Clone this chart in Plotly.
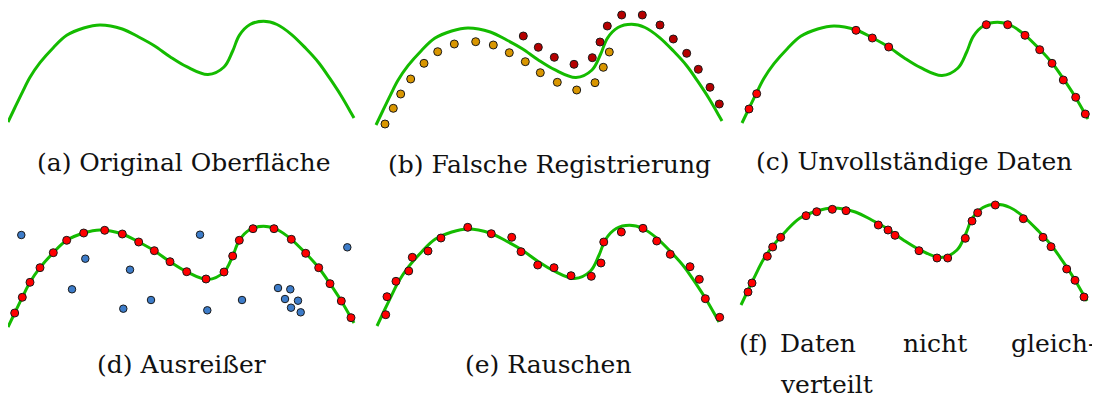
import plotly.graph_objects as go

# ---------------- data (surface template coordinates, y grows downward) -------------
CURVE_X = [8, 14.7, 22.3, 30, 40, 53.3, 66.7, 83.7, 100, 122.3, 138.7, 154.3, 170, 186.7,
           208, 224, 232.7, 239.3, 250, 263.5, 277, 291.3, 305.7, 318.7, 330, 341.3, 351, 354]
CURVE_Y = [122, 108, 92.3, 77.3, 62.7, 47.7, 35.3, 28, 25, 29, 37, 45.7, 56.7, 66.7,
           74.5, 67, 51, 35.3, 24.5, 21.3, 24.5, 34.3, 48.3, 62.7, 78.7, 96, 112.7, 118]

# (b) wrong registration: two shifted scans
B_ORANGE_X = [17, 25.3, 32.7, 42.7, 56, 69.7, 86.3, 107.7, 125.3, 141.3, 157.3, 172.3,
              189.3, 208.7, 227, 235.3, 241.3]
B_ORANGE_Y = [121, 105.3, 91, 76, 60.3, 48.7, 41, 38.7, 42, 49.7, 58.7, 69.7,
              79.3, 87, 79.7, 64.3, 49]
B_DARKRED_X = [155.3, 170.3, 186.3, 206, 224.3, 232, 239.3, 253.7, 274.3, 292, 305.3,
               318.7, 330.3, 342, 351.3]
B_DARKRED_Y = [33, 44.3, 54.3, 61.3, 54.7, 39, 23, 12, 12, 22, 36,
               50.3, 66.3, 84.3, 101]

# (c) incomplete data
C_X = [15, 22.7, 122, 138.3, 154.7, 252.3, 273.7, 291, 305.7, 318, 329.3, 341.7, 351.3]
C_Y = [108, 92.7, 29.3, 37, 46, 23.7, 23.7, 34.3, 48.7, 62.3, 79, 96.3, 113]

# (d) outliers
D_RED_X = [14.7, 22.3, 30, 40, 53.3, 66.7, 83.7, 104.7, 122.3, 138.7, 154.3, 170, 186.7,
           206, 224, 232.7, 239.3, 253, 274, 291.3, 305.7, 318.7, 330, 341.3, 351]
D_RED_Y = [108, 92.3, 77.3, 62.7, 47.7, 35.3, 28, 25.3, 29, 37, 45.7, 56.7, 66.7,
           74, 67, 51, 35.3, 23.7, 23.7, 34.3, 48.3, 62.7, 78.7, 96, 112.7]
D_BLUE_X = [21.3, 85.3, 72, 130, 123.3, 151, 200, 207.3, 242, 278, 290.3, 285, 298,
            291, 300.7, 347.3]
D_BLUE_Y = [30, 53.7, 84.3, 64.7, 103.7, 95, 29.7, 105.3, 95, 83, 84.3, 94, 95.7,
            102.7, 107.3, 42.3]

# (e) noise
E_X = [16.8, 18.1, 27.2, 40.1, 43.7, 59.6, 72.7, 99.8, 123.6, 144.3, 153.7, 170.6, 187.1,
       204.3, 224.8, 234.6, 237.4, 255.2, 277.1, 291, 304.7, 324.7, 334.1, 340.2, 354.7]
E_Y = [110.7, 92.7, 77.3, 67, 53.3, 47, 34, 23.3, 29.7, 33.3, 47.7, 61, 63.7,
       71.7, 72.3, 59, 38, 28, 24.3, 37, 50.3, 62.7, 75.3, 94.7, 113.3]

# (f) non-uniform sampling
F_X = [15, 19, 34.3, 39.7, 47.7, 73, 83.7, 99.3, 113, 145.3, 155, 162, 186, 204, 214.7,
       232.3, 239, 244.7, 262.3, 290.3, 310, 318, 333.7, 342, 351]
F_Y = [109, 100, 73.3, 64, 54.3, 32.7, 28.7, 26.3, 27.7, 42, 47, 52.3, 67.7, 75, 75,
       55.3, 38, 29.7, 22, 35.7, 54.3, 63.7, 86, 97.3, 114]

CAPTIONS = ["(a) Original Oberfläche", "(b) Falsche Registrierung", "(c) Unvollständige Daten",
            "(d) Ausreißer", "(e) Rauschen"]
F_WORDS = ["(f)", "Daten", "nicht", "gleich-", "verteilt"]

# ---------------- styling / layout ----------------
PAGE_MARGIN = 8          # default body margin of the html page
W, H = 1100 - PAGE_MARGIN, 398 - PAGE_MARGIN
GREEN = "#14bb00"
RED = "#ff0000"
DARKRED = "#b50000"
ORANGE = "#d99600"
BLUE = "#3d7cc9"
FONT = "DejaVu Serif"
TXR = (0, 360)
TYR = (0, 135)
# panel placement in window pixels: left, top, x-scale, y-scale
PANELS = [(0, 0, 1, 1), (368, 3, 1, 1), (734, 1, 1, 1),
          (0, 205, 1, 1), (369.1, 204, 0.9884, 1), (733, 183, 1, 1)]


def px(x):
    return (x - PAGE_MARGIN) / W


def py(y):
    return 1 - (y - PAGE_MARGIN) / H


fig = go.Figure()


def ax(i):
    return ("x" if i == 0 else f"x{i+1}"), ("y" if i == 0 else f"y{i+1}")


def add_curve(i):
    xa, ya = ax(i)
    fig.add_trace(go.Scatter(x=CURVE_X, y=CURVE_Y, mode="lines",
                             line=dict(color=GREEN, width=3, shape="spline"),
                             xaxis=xa, yaxis=ya, hoverinfo="skip", showlegend=False,
                             cliponaxis=False))


def add_dots(i, xs, ys, color, size=8):
    xa, ya = ax(i)
    fig.add_trace(go.Scatter(x=xs, y=ys, mode="markers",
                             marker=dict(color=color, size=size,
                                         line=dict(color="#1a1a1a", width=1)),
                             xaxis=xa, yaxis=ya, hoverinfo="skip", showlegend=False,
                             cliponaxis=False))


for i in range(6):
    add_curve(i)

add_dots(1, B_ORANGE_X, B_ORANGE_Y, ORANGE)
add_dots(1, B_DARKRED_X, B_DARKRED_Y, DARKRED)
add_dots(2, C_X, C_Y, RED)
add_dots(3, D_BLUE_X, D_BLUE_Y, BLUE, size=7.5)
add_dots(3, D_RED_X, D_RED_Y, RED)
add_dots(4, E_X, E_Y, RED)
add_dots(5, F_X, F_Y, RED)

layout = dict(width=W, height=H, margin=dict(l=0, r=0, t=0, b=0),
              paper_bgcolor="white", plot_bgcolor="white", showlegend=False)
for i, (left, top, sx, sy) in enumerate(PANELS):
    key = "" if i == 0 else str(i + 1)
    xd = [max(0, px(left)), min(1, px(left + (TXR[1] - TXR[0]) * sx))]
    xr = [TXR[0] + (xd[0] * W + PAGE_MARGIN - left) / sx,
          TXR[0] + (xd[1] * W + PAGE_MARGIN - left) / sx]
    yd = [max(0, py(top + (TYR[1] - TYR[0]) * sy)), min(1, py(top))]
    yr_top = TYR[0] + ((1 - yd[1]) * H + PAGE_MARGIN - top) / sy
    yr_bot = TYR[0] + ((1 - yd[0]) * H + PAGE_MARGIN - top) / sy
    layout["xaxis" + key] = dict(domain=xd, range=xr, visible=False, fixedrange=True)
    layout["yaxis" + key] = dict(domain=yd, range=[yr_bot, yr_top], visible=False,
                                 fixedrange=True)
fig.update_layout(**layout)

# captions (window-pixel centres converted to paper coords)
cap_pos = [(183, 162.4), (549.5, 164.7), (914, 161.4), (181, 364.7), (548, 364.7)]
for txt, (cx, cy) in zip(CAPTIONS, cap_pos):
    fig.add_annotation(text=txt, x=px(cx), y=py(cy), xref="paper", yref="paper",
                       showarrow=False, xanchor="center", yanchor="middle",
                       font=dict(family=FONT, size=25, color="#111111"))

f_pos = [(737, 343, "left"), (778, 343, "left"), (935, 343, "center"),
         (1098, 343, "right"), (778, 384.7, "left")]
for txt, (fx, fy, anc) in zip(F_WORDS, f_pos):
    fig.add_annotation(text=txt, x=px(fx), y=py(fy), xref="paper", yref="paper",
                       showarrow=False, xanchor=anc, yanchor="middle",
                       font=dict(family=FONT, size=25, color="#111111"))

fig.write_html("out.html")
